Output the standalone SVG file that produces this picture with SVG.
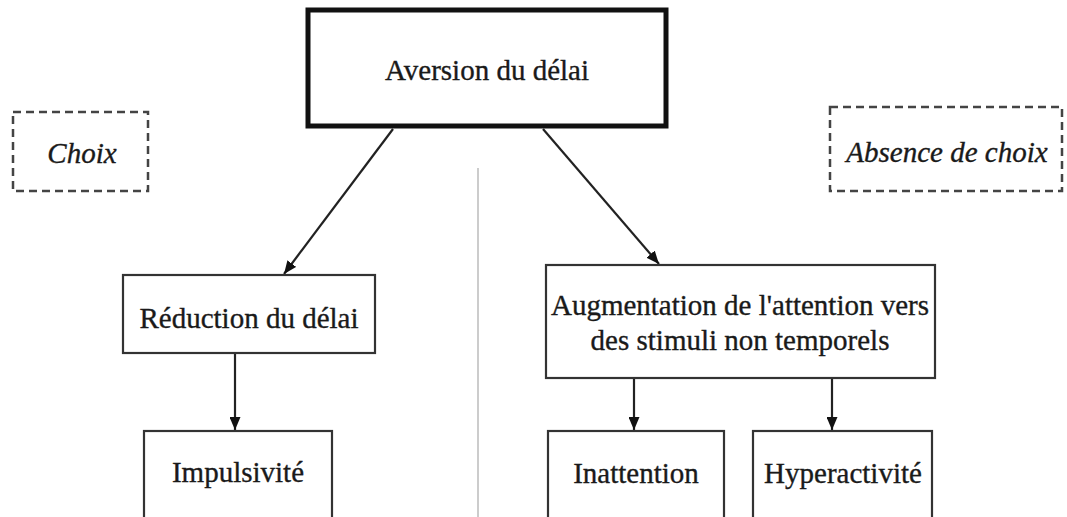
<svg xmlns="http://www.w3.org/2000/svg" width="1067" height="517" viewBox="0 0 1067 517">
<style>
.box{fill:#fff;stroke:#333;stroke-width:2.2}
.main{fill:#fff;stroke:#111;stroke-width:5}
.dash{fill:none;stroke:#444;stroke-width:2.5;stroke-dasharray:8 5}
.t{font-family:"Liberation Serif","Times New Roman",serif;font-size:29px;fill:#1a1a1a;stroke:#1a1a1a;stroke-width:0.35;text-anchor:middle}
.i{font-style:italic}
.c{stroke:#222;stroke-width:2.2;fill:none;marker-end:url(#ah)}
</style>
<defs>
<marker id="ah" viewBox="0 0 13 11" refX="13" refY="5.5" markerWidth="13" markerHeight="11" markerUnits="userSpaceOnUse" orient="auto">
<path d="M0,0 L13,5.5 L0,11 z" fill="#111"/>
</marker>
</defs>
<rect width="1067" height="517" fill="#fff"/>
<line x1="478" y1="168" x2="478" y2="517" stroke="#ccc" stroke-width="2"/>
<g id="connectors">
<line class="c" x1="393" y1="129" x2="284" y2="274"/>
<line class="c" x1="543" y1="129" x2="659" y2="264"/>
<line class="c" x1="235" y1="353" x2="235" y2="430"/>
<line class="c" x1="634" y1="378" x2="634" y2="430"/>
<line class="c" x1="832" y1="378" x2="832" y2="430"/>
</g>
<g id="aversion">
<rect class="main" x="308" y="10" width="358" height="116"/>
<text class="t" x="487" y="80">Aversion du délai</text>
</g>
<g id="choix">
<rect class="dash" x="13" y="112" width="135" height="79"/>
<text class="t i" x="82" y="163">Choix</text>
</g>
<g id="absence">
<rect class="dash" x="830" y="107" width="232" height="84"/>
<text class="t i" x="947" y="162">Absence de choix</text>
</g>
<g id="reduction">
<rect class="box" x="123" y="275" width="252" height="78"/>
<text class="t" x="249" y="328">Réduction du délai</text>
</g>
<g id="impulsivite">
<rect class="box" x="144" y="431" width="188" height="100"/>
<text class="t" x="238" y="482">Impulsivité</text>
</g>
<g id="augmentation">
<rect class="box" x="546" y="265" width="389" height="113"/>
<text class="t" x="740" y="315">Augmentation de l'attention vers</text>
<text class="t" x="740" y="350">des stimuli non temporels</text>
</g>
<g id="inattention">
<rect class="box" x="548" y="431" width="176" height="100"/>
<text class="t" x="636" y="483">Inattention</text>
</g>
<g id="hyperactivite">
<rect class="box" x="753" y="431" width="179" height="100"/>
<text class="t" x="843" y="483">Hyperactivité</text>
</g>
</svg>
